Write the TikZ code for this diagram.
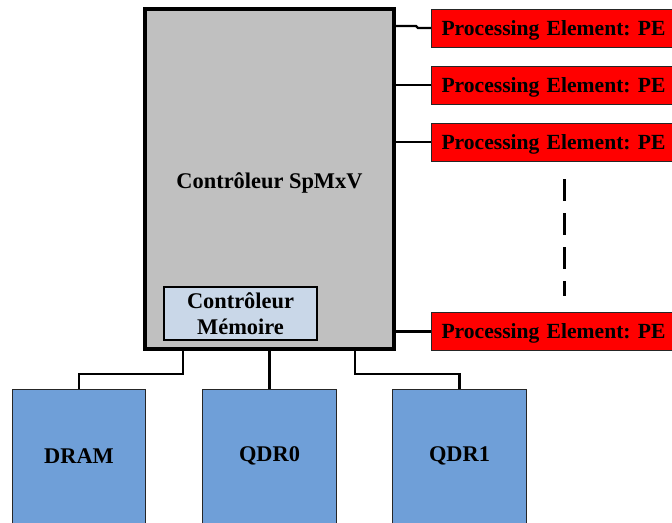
\documentclass[tikz,border=0pt]{standalone}
\usepackage{fontspec}
\setmainfont{Liberation Serif}
\definecolor{maingray}{HTML}{C0C0C0}
\definecolor{memfill}{HTML}{C9D7E8}
\definecolor{ramfill}{HTML}{6F9FD8}
\definecolor{pered}{HTML}{FF0000}
\begin{document}
\begin{tikzpicture}[x=0.75pt,y=-0.75pt,
  every node/.style={font=\fontsize{16.8}{19.5}\selectfont\bfseries\frenchspacing, text=black},
  mainbox/.style={draw=black, line width=3pt, fill=maingray, inner sep=0pt,
    minimum width=186.75pt, minimum height=255pt, text height=17pt, text depth=3.5pt},
  membox/.style={draw=black, line width=0.9pt, fill=memfill, inner sep=0pt, align=center,
    minimum width=114.75pt, minimum height=39.75pt},
  rambox/.style={draw=black!85, line width=0.75pt, fill=ramfill, inner sep=0pt,
    minimum width=100pt, minimum height=100.5pt},
  pebox/.style={draw=black!85, line width=0.75pt, fill=pered, minimum height=28.5pt,
    font=\fontsize{16.2}{19.5}\selectfont\bfseries\frenchspacing,
    text height=14pt, text depth=3.5pt,
    text width=190pt, inner xsep=7.5pt, inner ysep=0pt, align=left, anchor=west},
  conn/.style={draw=black, line width=1.6pt},
  dashline/.style={draw=black, line width=2.25pt, dash pattern=on 16.5pt off 9pt}]
\useasboundingbox (0,0) rectangle (672,522);
\clip (0,0) rectangle (672,522);
% main controller
\node[mainbox] (main) at (269.5,179) {Contrôleur SpMxV};
\node[membox] (mem) at (240.5,313.5) {Contrôleur\\Mémoire};
% processing elements
\node[pebox] (pe1) at (431,28) {Processing Element: PE};
\node[pebox] (pe2) at (431,85) {Processing Element: PE};
\node[pebox] (pe3) at (431,142) {Processing Element: PE};
\node[pebox] (pe4) at (431,331.5) {Processing Element: PE};
% memories
\node[rambox] (dram) at (79,456) {DRAM};
\node[rambox] (qdr0) at (269.5,456) {QDR0};
\node[rambox] (qdr1) at (459.5,456) {QDR1};
% connectors to PEs
\coordinate (j1) at (418,28);
\coordinate (j2) at (416,26);
\draw[conn] (pe1.west) -- (j1) -- (j2) -- (j2 -| main.east);
\draw[conn] (pe2.west) -- (pe2.west -| main.east);
\draw[conn] (pe3.west) -- (pe3.west -| main.east);
\draw[conn] (pe4.west) -- (pe4.west -| main.east);
% dashed ellipsis
\coordinate (d1) at (564,179);
\coordinate (d2) at (564,296);
\draw[dashline] (d1) -- (d2);
% connectors to memories
\coordinate (m1) at (183,374);
\coordinate (m3) at (355,374);
\draw[conn] (dram.north) |- (m1) -- (m1 |- main.south);
\draw[conn] (qdr0.north) -- (qdr0.north |- main.south);
\draw[conn] (qdr1.north) |- (m3) -- (m3 |- main.south);
\end{tikzpicture}
\end{document}
